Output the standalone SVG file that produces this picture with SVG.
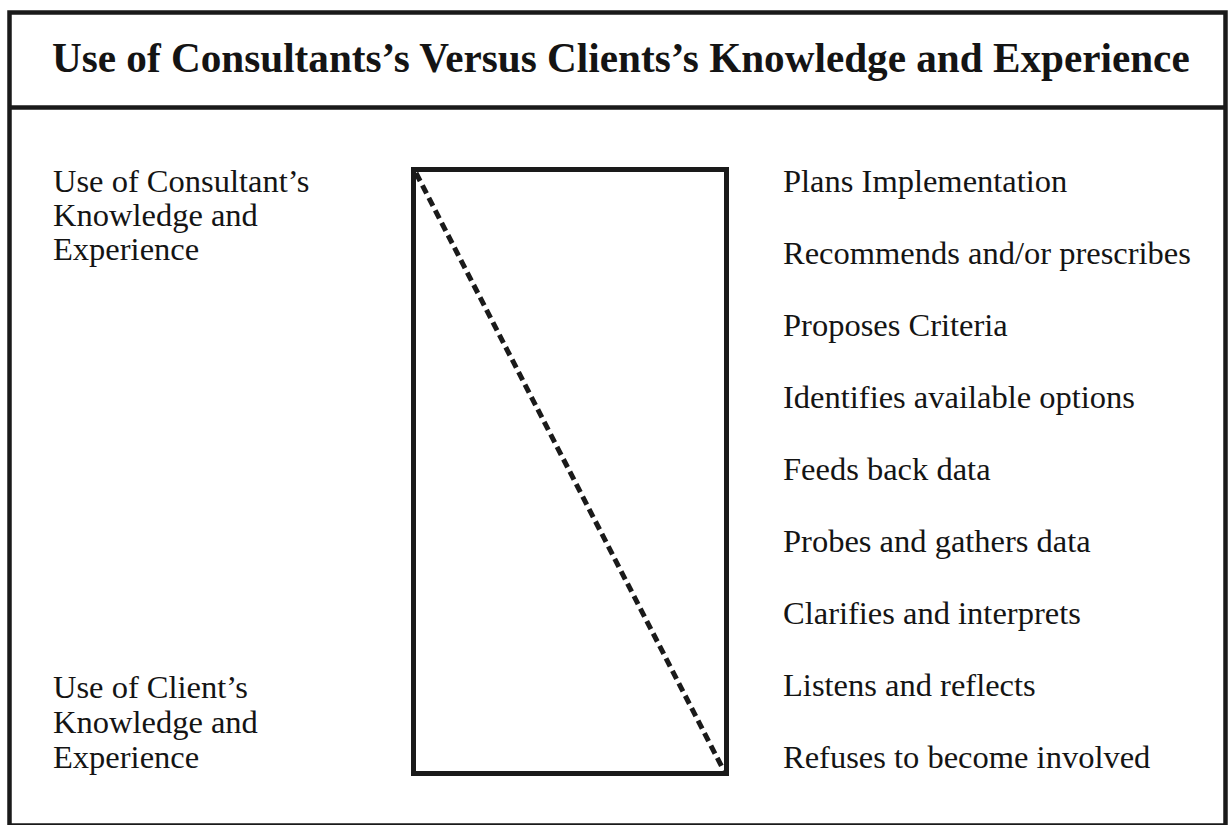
<svg xmlns="http://www.w3.org/2000/svg" width="1228" height="825" viewBox="0 0 1228 825">
<style>
.frame{fill:none;stroke:#1a1a1a;stroke-width:4.5}
.t{font-family:"Liberation Serif","Times New Roman",serif;fill:#141414;font-size:32.5px}
.title{font-family:"Liberation Serif","Times New Roman",serif;fill:#141414;font-size:41.2px;font-weight:bold}
</style>
<rect x="0" y="0" width="1228" height="825" fill="#fff"/>
<g id="frame">
<rect class="frame" x="9.5" y="12.5" width="1216" height="813"/>
<line class="frame" x1="9.5" y1="107.5" x2="1225.5" y2="107.5"/>
</g>
<g id="title"><text class="title" x="52" y="72">Use of Consultants’s Versus Clients’s Knowledge and Experience</text></g>
<g id="scale">
<rect x="413.5" y="169.5" width="313" height="604" fill="none" stroke="#1a1a1a" stroke-width="5"/>
</g>
<g id="connectors">
<line x1="416" y1="173" x2="724" y2="771" stroke="#1a1a1a" stroke-width="5" stroke-dasharray="9 5"/>
</g>
<g id="label-consultant">
<text class="t" x="53" y="192">Use of Consultant’s</text>
<text class="t" x="53" y="226">Knowledge and</text>
<text class="t" x="53" y="260">Experience</text>
</g>
<g id="label-client">
<text class="t" x="53" y="698">Use of Client’s</text>
<text class="t" x="53" y="733">Knowledge and</text>
<text class="t" x="53" y="768">Experience</text>
</g>
<g id="behaviours">
<text class="t" x="783" y="192">Plans Implementation</text>
<text class="t" x="783" y="264">Recommends and/or prescribes</text>
<text class="t" x="783" y="336">Proposes Criteria</text>
<text class="t" x="783" y="408">Identifies available options</text>
<text class="t" x="783" y="480">Feeds back data</text>
<text class="t" x="783" y="552">Probes and gathers data</text>
<text class="t" x="783" y="624">Clarifies and interprets</text>
<text class="t" x="783" y="696">Listens and reflects</text>
<text class="t" x="783" y="768">Refuses to become involved</text>
</g>
</svg>
